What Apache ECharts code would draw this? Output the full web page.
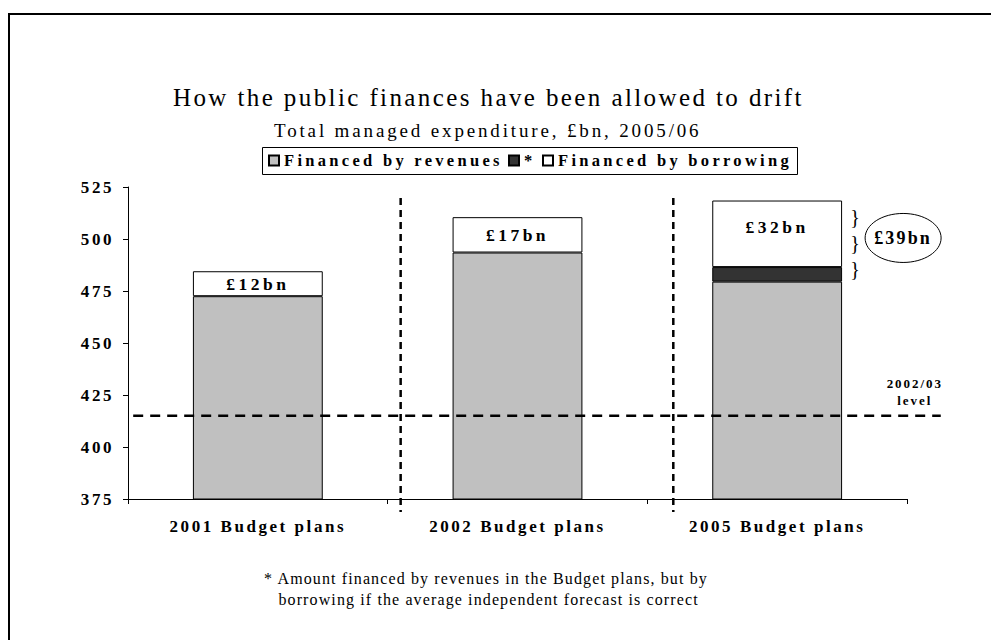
<!DOCTYPE html>
<html>
<head>
<meta charset="utf-8">
<script src="https://cdn.jsdelivr.net/npm/echarts@6/dist/echarts.min.js"></script>
<style>
  html, body { margin: 0; padding: 0; background: #fff; }
  #chart { width: 991px; height: 640px; }
  /* spaced-out lettering, tuned per text size */
  #chart svg text[style*="25px"] { letter-spacing: 0.096em; }
  #chart svg text[style*="19px"] { letter-spacing: 0.15em; }
  #chart svg text[style*="17px"] { letter-spacing: 0.15em; }
  #chart svg text[style*="17.5px"] { letter-spacing: 0.2em; }
  #chart svg text[style*="16.5px"] { letter-spacing: 0.2em; }
  #chart svg text[style*="13px"] { letter-spacing: 0.15em; }
  #chart svg text[style*="16px"] { letter-spacing: 0.07em; }
  #chart svg text[style*="18px"] { letter-spacing: 0.12em; }
</style>
</head>
<body>
<div id="chart"></div>
<script>
// Total managed expenditure, £bn, 2005/06
const categories = ['2001 Budget plans', '2002 Budget plans', '2005 Budget plans'];
const seriesNames = ['Financed by revenues', '*', 'Financed by borrowing'];
const revenues = [472.5, 493.5, 479.5];
const starAmount = [null, null, 7];
const borrowing = [12, 17, 32];
const yMin = 375, yMax = 525, yStep = 25;
const level0203 = 415;
const levelLabel = '2002/03\nlevel';
const separators = [1.05, 2.1];
const footnote = '* Amount financed by revenues in the Budget plans, but by\n borrowing if the average independent forecast is correct';

const SERIF = '"Liberation Serif", "Times New Roman", serif';
const last = categories.length - 1;

// one legend per entry so the widened lettering keeps its room; a shared frame is drawn below
const legendLefts = [268, 508, 542];
const legends = seriesNames.map((n, i) => ({
  data: [n], top: 152, left: legendLefts[i], padding: 0,
  icon: 'rect', itemWidth: 10, itemHeight: 10, selectedMode: false,
  textStyle: { fontFamily: SERIF, fontWeight: 'bold', fontSize: 16.5, color: '#000' }
}));

const chart = echarts.init(document.getElementById('chart'), null, { renderer: 'svg' });

const option = {
  animation: false,
  backgroundColor: '#fff',
  title: [
    {
      text: 'How the public finances have been allowed to drift',
      left: 168, top: 80,
      textStyle: { fontFamily: SERIF, fontWeight: 'normal', fontSize: 25, color: '#000' }
    },
    {
      text: 'Total managed expenditure, £bn, 2005/06',
      left: 269, top: 116,
      textStyle: { fontFamily: SERIF, fontWeight: 'normal', fontSize: 19, color: '#000' }
    }
  ],
  legend: legends,
  grid: { left: 128, right: 84, top: 187, bottom: 141, containLabel: false },
  xAxis: [
    {
      type: 'category', data: categories,
      axisLine: { lineStyle: { color: '#000', width: 1 } },
      axisTick: { show: true, length: 5, lineStyle: { color: '#000' } },
      axisLabel: { margin: 19, fontFamily: SERIF, fontWeight: 'bold', fontSize: 17, color: '#000' }
    },
    { type: 'value', min: 0, max: 3, show: false }
  ],
  yAxis: {
    type: 'value', min: yMin, max: yMax, interval: yStep,
    axisLine: { show: true, lineStyle: { color: '#000', width: 1 } },
    axisTick: { show: true, length: 5, lineStyle: { color: '#000' } },
    splitLine: { show: false },
    axisLabel: { margin: 14, fontFamily: SERIF, fontWeight: 'bold', fontSize: 17, color: '#000' }
  },
  series: [
    {
      name: seriesNames[0], type: 'bar', stack: 'tme', barWidth: '50%',
      data: revenues,
      itemStyle: { color: '#c0c0c0', borderColor: '#000', borderWidth: 1 }
    },
    {
      name: seriesNames[1], type: 'bar', stack: 'tme',
      data: starAmount.map(v => (v == null ? '-' : v)),
      itemStyle: { color: '#333333', borderColor: '#000', borderWidth: 1 }
    },
    {
      name: seriesNames[2], type: 'bar', stack: 'tme',
      // the tall top segment carries its label a little above centre
      data: borrowing.map((v, i) => (i === last ? { value: v, label: { offset: [0, -7] } } : v)),
      itemStyle: { color: '#ffffff', borderColor: '#000', borderWidth: 1 },
      label: {
        show: true, position: 'inside',
        formatter: p => '£' + p.value + 'bn',
        fontFamily: SERIF, fontWeight: 'bold', fontSize: 17.5, color: '#000'
      }
    }
  ]
};

chart.setOption(option);

// annotation layer positioned through the chart's own axes
function px(x) { return chart.convertToPixel({ xAxisIndex: 1 }, x); }
function py(y) { return chart.convertToPixel({ yAxisIndex: 0 }, y); }

const combined = starAmount[last] + borrowing[last];
const graphics = [];

// outer frame
graphics.push({
  type: 'rect', z: 100, silent: true,
  shape: { x: 9, y: 14, width: 1100, height: 800 },
  style: { fill: 'none', stroke: '#000', lineWidth: 2 }
});

// frame round the legend entries
graphics.push({
  type: 'rect', z: 100, silent: true,
  shape: { x: 262.5, y: 147.5, width: 535, height: 27 },
  style: { fill: 'none', stroke: '#000', lineWidth: 1 }
});

// dashed separators between the budget years
separators.forEach(s => {
  graphics.push({
    type: 'line', z: 100, silent: true,
    shape: { x1: px(s), y1: py(519.7), x2: px(s), y2: py(368.8) },
    style: { stroke: '#000', lineWidth: 2.5, lineDash: [7, 5] }
  });
});

// 2002/03 level reference line
graphics.push({
  type: 'line', z: 100, silent: true,
  shape: { x1: px(0.02), y1: py(level0203), x2: px(3.13), y2: py(level0203) },
  style: { stroke: '#000', lineWidth: 2.5, lineDash: [10, 7] }
});
graphics.push({
  type: 'text', z: 100, silent: true,
  x: px(3.03), y: py(426.5),
  style: {
    text: levelLabel, textAlign: 'center', textVerticalAlign: 'middle',
    fontFamily: SERIF, fontWeight: 'bold', fontSize: 13, lineHeight: 17, fill: '#000'
  }
});

// braces grouping the borrowing and starred amounts
[510.6, 498.2, 485.7].forEach(v => {
  graphics.push({
    type: 'text', z: 100, silent: true,
    x: px(2.8), y: py(v),
    style: {
      text: '}', textAlign: 'center', textVerticalAlign: 'middle',
      fontFamily: SERIF, fontSize: 20, fill: '#000'
    }
  });
});

// combined total in an ellipse
graphics.push({
  type: 'ellipse', z: 100, silent: true,
  shape: { cx: px(2.985), cy: py(500.5), rx: 38, ry: 24.5 },
  style: { fill: 'none', stroke: '#000', lineWidth: 1 }
});
graphics.push({
  type: 'text', z: 101, silent: true,
  x: px(2.985), y: py(500.5),
  style: {
    text: '£' + combined + 'bn', textAlign: 'center', textVerticalAlign: 'middle',
    fontFamily: SERIF, fontWeight: 'bold', fontSize: 18, fill: '#000'
  }
});

// footnote
graphics.push({
  type: 'text', z: 100, silent: true,
  x: 486, y: 568,
  style: {
    text: footnote, textAlign: 'center', textVerticalAlign: 'top',
    fontFamily: SERIF, fontSize: 16, lineHeight: 21, fill: '#000'
  }
});

chart.setOption({ graphic: graphics });
</script>
</body>
</html>
